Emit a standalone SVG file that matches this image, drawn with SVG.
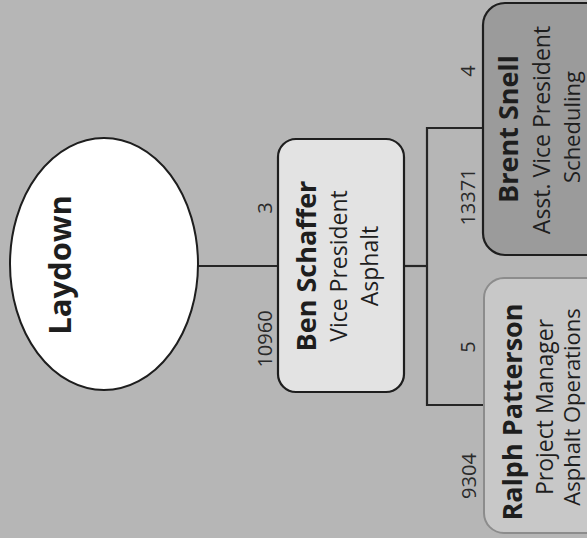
<svg xmlns="http://www.w3.org/2000/svg" width="587" height="538" viewBox="0 0 587 538">
<style>
.t{font-family:"Open Sans","Noto Sans","DejaVu Sans",sans-serif;fill:#1e1e1e;text-anchor:middle}
.b{font-weight:bold}
.lbl{font-size:20px;fill:#2a2a2a}
.conn{stroke:#262626;stroke-width:2.2;fill:none}
.box{stroke:#1e1e1e;stroke-width:2.2}
</style>
<rect x="0" y="0" width="587" height="538" fill="#b6b6b6"/>
<g id="connectors">
<line class="conn" x1="198" y1="266" x2="278" y2="266"/>
<polyline class="conn" points="404,266 427,266"/>
<polyline class="conn" points="483,128 427,128 427,405 484,405"/>
<text class="t lbl" transform="translate(272,208) rotate(-90)">3</text>
<text class="t lbl" transform="translate(272,339) rotate(-90)">10960</text>
<text class="t lbl" transform="translate(475,71) rotate(-90)">4</text>
<text class="t lbl" transform="translate(475,197) rotate(-90)">13371</text>
<text class="t lbl" transform="translate(475,347) rotate(-90)">5</text>
<text class="t lbl" transform="translate(476,476) rotate(-90)">9304</text>
</g>
<g id="laydown">
<ellipse cx="104" cy="264" rx="94" ry="126" fill="#ffffff" stroke="#1e1e1e" stroke-width="2"/>
<text class="t b" font-size="31" transform="translate(71,265) rotate(-90)">Laydown</text>
</g>
<g id="ben">
<rect class="box" x="278" y="139" width="126" height="253" rx="18" fill="#e3e3e3"/>
<text class="t b" font-size="27" transform="translate(316,266) rotate(-90)">Ben Schaffer</text>
<text class="t" font-size="23" transform="translate(347,266) rotate(-90)">Vice President</text>
<text class="t" font-size="23" transform="translate(378,266) rotate(-90)">Asphalt</text>
</g>
<g id="brent">
<rect class="box" x="483" y="3" width="130" height="252" rx="22" fill="#9b9b9b"/>
<text class="t b" font-size="27" transform="translate(518,129) rotate(-90)">Brent Snell</text>
<text class="t" font-size="23" transform="translate(550,130) rotate(-90)">Asst. Vice President</text>
<text class="t" font-size="22" transform="translate(580,127) rotate(-90)">Scheduling</text>
</g>
<g id="ralph">
<rect x="484" y="278" width="130" height="255" rx="20" fill="#c8c8c8" stroke="#8c8c8c" stroke-width="2"/>
<text class="t b" font-size="27" transform="translate(522,412) rotate(-90)">Ralph Patterson</text>
<text class="t" font-size="23" transform="translate(553,407) rotate(-90)">Project Manager</text>
<text class="t" font-size="22" transform="translate(580,407) rotate(-90)">Asphalt Operations</text>
</g>
</svg>
